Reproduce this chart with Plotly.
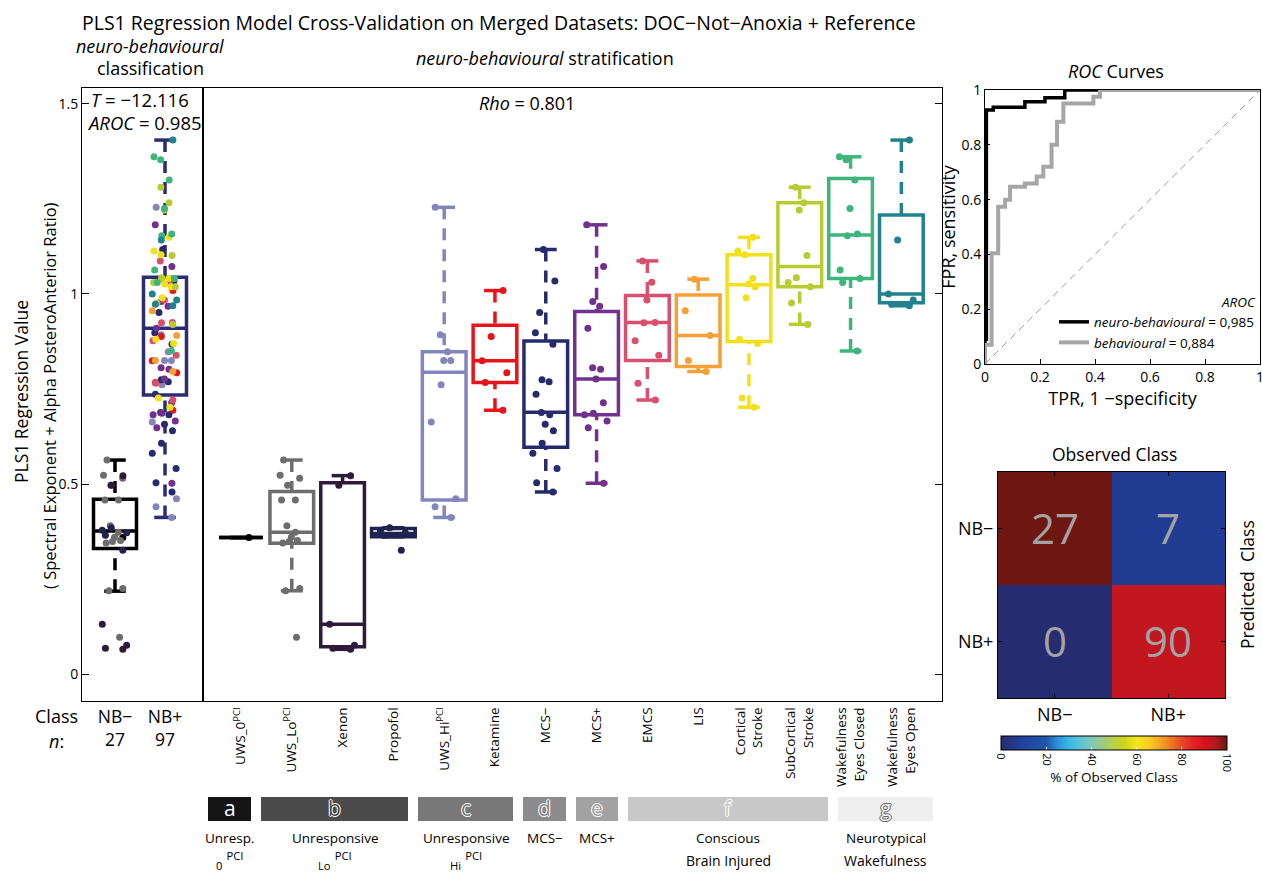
import plotly.graph_objects as go

W, H = 1262, 872
FONT = "Open Sans"


def px(x):
    return x / W


def py(y):
    return 1 - y / H


# ---------------- data ----------------
group_labels = ["UWS_0<sup>PCI</sup>", "UWS_Lo<sup>PCI</sup>", "Xenon", "Propofol",
                "UWS_Hi<sup>PCI</sup>", "Ketamine", "MCS−", "MCS+", "EMCS", "LIS",
                "Cortical<br>Stroke", "SubCortical<br>Stroke",
                "Wakefulness<br>Eyes Closed", "Wakefulness<br>Eyes Open"]
group_colors = ["#000000", "#6d6d6d", "#2e1a3a", "#1f2350", "#8286bd", "#e8141c",
                "#262b6c", "#72308f", "#d9506f", "#f7a036", "#f2e01b", "#b7cc2f",
                "#3eb57c", "#22818f"]

uws_0 = [0.359]
uws_lo = [0.563, 0.523, 0.515, 0.497, 0.458, 0.458, 0.390, 0.373, 0.360, 0.351,
          0.349, 0.345, 0.225, 0.219, 0.097]
xenon = [0.522, 0.497, 0.131, 0.076, 0.068, 0.065]
propofol = [0.385, 0.378, 0.372, 0.365, 0.326]
uws_hi = [1.228, 0.893, 0.848, 0.825, 0.825, 0.761, 0.663, 0.461, 0.440, 0.412]
ketamine = [1.009, 0.888, 0.824, 0.793, 0.767, 0.694]
mcs_minus = [1.117, 1.034, 0.951, 0.898, 0.868, 0.774, 0.769, 0.736, 0.688, 0.682,
             0.657, 0.640, 0.607, 0.581, 0.541, 0.503, 0.479]
mcs_plus = [1.182, 1.072, 0.980, 0.968, 0.910, 0.806, 0.802, 0.776, 0.714, 0.686,
            0.682, 0.666, 0.648, 0.502]
emcs = [1.087, 1.031, 0.984, 0.925, 0.924, 0.877, 0.839, 0.765, 0.721]
lis = [1.039, 0.956, 0.891, 0.825, 0.796]
cortical_stroke = [1.149, 1.113, 1.103, 1.041, 1.026, 1.019, 0.990, 0.881, 0.870,
                   0.726, 0.702]
subcortical_stroke = [1.281, 1.240, 1.221, 1.101, 1.043, 1.030, 1.019, 0.976, 0.920]
wake_eyes_closed = [1.361, 1.353, 1.300, 1.225, 1.158, 1.153, 1.063, 1.041, 1.030, 0.850]
wake_eyes_open = [1.405, 1.142, 1.000, 0.984, 0.973, 0.969]

group_values = [uws_0, uws_lo, xenon, propofol, uws_hi, ketamine, mcs_minus, mcs_plus,
                emcs, lis, cortical_stroke, subcortical_stroke, wake_eyes_closed,
                wake_eyes_open]

# box statistics
group_q1 = [0.359, 0.344, 0.072, 0.361, 0.458, 0.767, 0.597, 0.682, 0.825, 0.809,
            0.875, 1.019, 1.041, 0.977]
group_median = [0.359, 0.373, 0.131, 0.370, 0.794, 0.824, 0.689, 0.776, 0.925, 0.891,
                1.024, 1.072, 1.155, 1.000]
group_q3 = [0.359, 0.480, 0.503, 0.383, 0.848, 0.918, 0.876, 0.954, 0.996, 0.997,
            1.103, 1.240, 1.304, 1.208]
group_wlow = [0.359, 0.219, 0.065, 0.361, 0.412, 0.694, 0.479, 0.502, 0.721, 0.796,
              0.702, 0.920, 0.850, 0.969]
group_whigh = [0.359, 0.563, 0.522, 0.385, 1.228, 1.009, 1.117, 1.182, 1.087, 1.039,
               1.149, 1.281, 1.361, 1.405]

class_labels = ["NB−", "NB+"]
class_n = [27, 97]
class_colors = ["#000000", "#2b2d72"]
class_members = [[0, 1, 2, 3], [4, 5, 6, 7, 8, 9, 10, 11, 12, 13]]
class_q1 = [0.330, 0.734]
class_median = [0.376, 0.910]
class_q3 = [0.460, 1.044]
class_wlow = [0.218, 0.412]
class_whigh = [0.563, 1.405]

# ROC curves
roc_nb_fpr = [0, 0, 0.005, 0.005, 0.03, 0.03, 0.145, 0.145, 0.218, 0.218, 0.29, 0.29, 1.0]
roc_nb_tpr = [0, 0.09, 0.09, 0.927, 0.927, 0.937, 0.937, 0.957, 0.957, 0.972, 0.972, 1.0, 1.0]
roc_b_fpr = [0, 0, 0.024, 0.024, 0.048, 0.048, 0.073, 0.073, 0.091, 0.091, 0.145, 0.145,
             0.188, 0.188, 0.212, 0.212, 0.242, 0.242, 0.262, 0.262, 0.285, 0.285,
             0.394, 0.394, 0.418, 0.418, 1.0]
roc_b_tpr = [0, 0.07, 0.07, 0.404, 0.404, 0.574, 0.574, 0.599, 0.599, 0.647, 0.647,
             0.659, 0.659, 0.684, 0.684, 0.72, 0.72, 0.80, 0.80, 0.884, 0.884, 0.951,
             0.951, 0.975, 0.975, 1.0, 1.0]
roc_names = ["<i>neuro-behavioural</i> = 0,985", "<i>behavioural</i> = 0,884"]

# confusion matrix
cm_classes = ["NB−", "NB+"]
cm_counts = [[27, 7], [0, 90]]

# category bands
cat_letters = ["a", "b", "c", "d", "e", "f", "g"]
cat_line1 = ["Unresp.", "Unresponsive", "Unresponsive", "MCS−", "MCS+", "Conscious",
             "Neurotypical"]
cat_line2 = ["<sub>0</sub> <sup>PCI</sup>", "<sub>Lo</sub> <sup>PCI</sup>",
             "<sub>Hi</sub> <sup>PCI</sup>", "", "", "Brain Injured", "Wakefulness"]

# ---------------- styling / layout constants ----------------
cat_px = [(208, 251), (261, 408), (418, 513), (523, 566), (576, 618), (628, 828), (838, 933)]
cat_fill = ["#141414", "#4b4b4b", "#787878", "#8c8c8c", "#a2a2a2", "#c8c8c8", "#efefef"]

jet_scale = [[0.0, "#262c70"], [0.1, "#1f43a0"], [0.2, "#2157ab"], [0.25, "#2d8fd8"],
             [0.3, "#37b8e9"], [0.35, "#5dc3d6"], [0.4, "#7fc8b8"], [0.45, "#9ccb80"],
             [0.5, "#b9cf48"], [0.55, "#cfd516"], [0.6, "#f3e61c"], [0.65, "#f9d11e"],
             [0.7, "#f5a823"], [0.75, "#ee7b24"], [0.8, "#e84926"], [0.85, "#e32126"],
             [0.9, "#d7141d"], [0.95, "#b21a1e"], [1.0, "#6e1611"]]

LW = 3.5
HW = 0.43
DASH = "12px,9px"

fig = go.Figure()
shapes = []


def add_box_shapes(pos, q1, med, q3, lo, hi, color, xref, yref, hw):
    common = dict(xref=xref, yref=yref, layer="below")
    shapes.append(dict(type="line", x0=pos, x1=pos, y0=hi, y1=q3,
                       line=dict(color=color, width=LW, dash=DASH), **common))
    shapes.append(dict(type="line", x0=pos, x1=pos, y0=lo, y1=q1,
                       line=dict(color=color, width=LW, dash=DASH), **common))
    shapes.append(dict(type="rect", x0=pos - hw, x1=pos + hw, y0=q1, y1=q3,
                       line=dict(color=color, width=LW), **common))
    shapes.append(dict(type="line", x0=pos - hw, x1=pos + hw, y0=med, y1=med,
                       line=dict(color=color, width=LW), **common))
    for v in (hi, lo):
        shapes.append(dict(type="line", x0=pos - hw / 2, x1=pos + hw / 2, y0=v, y1=v,
                           line=dict(color=color, width=LW), **common))


def add_points(pos, values, color, xaxis, yaxis):
    fig.add_trace(go.Box(
        y=values, x0=pos, xaxis=xaxis, yaxis=yaxis, width=2 * HW,
        boxpoints="all", jitter=0.7, pointpos=0,
        line=dict(width=0, color="rgba(0,0,0,0)"), fillcolor="rgba(0,0,0,0)",
        marker=dict(color=color, size=7, line=dict(width=0)),
        hoveron="points", showlegend=False))


# class (left) panel
for i in range(2):
    add_box_shapes(i + 1, class_q1[i], class_median[i], class_q3[i], class_wlow[i],
                   class_whigh[i], class_colors[i], "x", "y", HW)
    for g in class_members[i]:
        add_points(i + 1, group_values[g], group_colors[g], "x", "y")

# stratification (right) panel
for g in range(len(group_values)):
    add_box_shapes(g + 1, group_q1[g], group_median[g], group_q3[g], group_wlow[g],
                   group_whigh[g], group_colors[g], "x2", "y2", HW)
    add_points(g + 1, group_values[g], group_colors[g], "x2", "y2")

# ROC
fig.add_trace(go.Scatter(x=[0, 1], y=[0, 1], mode="lines", xaxis="x3", yaxis="y3",
                         line=dict(color="#9a9a9a", width=1, dash="7px,5px"),
                         showlegend=False, hoverinfo="skip"))
fig.add_trace(go.Scatter(x=roc_nb_fpr, y=roc_nb_tpr, mode="lines", xaxis="x3", yaxis="y3",
                         line=dict(color="#000000", width=3.5), name=roc_names[0]))
fig.add_trace(go.Scatter(x=roc_b_fpr, y=roc_b_tpr, mode="lines", xaxis="x3", yaxis="y3",
                         line=dict(color="#a6a6a6", width=4), name=roc_names[1]))

# confusion matrix
col_tot = [cm_counts[0][j] + cm_counts[1][j] for j in range(2)]
cm_pct = [[100.0 * cm_counts[r][j] / col_tot[j] for j in range(2)] for r in range(2)]
fig.add_trace(go.Heatmap(
    z=cm_pct, x=cm_classes, y=cm_classes, text=cm_counts, texttemplate="%{text}",
    textfont=dict(size=42, color="#a3a3a3", family=FONT), xaxis="x4", yaxis="y4",
    colorscale=jet_scale, zmin=0, zmax=100, showscale=True, xgap=0, ygap=0,
    colorbar=dict(orientation="h", x=px(1114), xanchor="center", y=py(736),
                  yanchor="top", len=226 / W, lenmode="fraction", thickness=14,
                  xpad=0, ypad=0,
                  tickvals=[0, 20, 40, 60, 80, 100], tickangle=90,
                  tickfont=dict(size=11, family=FONT, color="black"), ticks="inside",
                  ticklen=3, tickcolor="white", outlinecolor="black", outlinewidth=1,
                  title=dict(text="% of Observed Class", side="bottom",
                             font=dict(size=13.5, family=FONT, color="black")))))

# ---------------- axes ----------------
ydom = [py(701), py(88)]
axis_common = dict(showline=True, linecolor="black", linewidth=1, mirror=True,
                   showgrid=False, zeroline=False, automargin=False, tickcolor="black")

layout = dict(
    template="none",
    width=W, height=H, autosize=False, margin=dict(l=0, r=0, t=0, b=0, pad=0),
    paper_bgcolor="white", plot_bgcolor="white",
    font=dict(family=FONT, color="black", size=14),
    boxmode="overlay",
    xaxis=dict(domain=[px(82), px(203)], anchor="y", range=[0.34, 2.76],
               tickvals=[1, 2],
               ticktext=[f"{c}<br>{n}" for c, n in zip(class_labels, class_n)],
               ticks="", tickfont=dict(size=17.5), **axis_common),
    yaxis=dict(domain=ydom, anchor="x", range=[-0.071, 1.542],
               tickvals=[0, 0.5, 1, 1.5], ticktext=["0", "0.5", "1", "1.5"],
               ticks="inside", ticklen=7, tickfont=dict(size=14), **axis_common),
    xaxis2=dict(domain=[px(203), px(942)], anchor="y2", range=[0.252, 14.80],
                tickvals=list(range(1, 15)), ticktext=group_labels, tickangle=-90,
                ticks="", tickfont=dict(size=13.5), **axis_common),
    yaxis2=dict(domain=ydom, anchor="x2", matches="y", side="right",
                tickvals=[0, 0.5, 1, 1.5], showticklabels=False,
                ticks="inside", ticklen=7, **axis_common),
    xaxis3=dict(domain=[px(985), px(1260)], anchor="y3", range=[0, 1],
                tickvals=[0, 0.2, 0.4, 0.6, 0.8, 1],
                ticktext=["0", "0.2", "0.4", "0.6", "0.8", "1"],
                ticks="inside", ticklen=5, tickfont=dict(size=14),
                ticklabeloverflow="allow",
                title=dict(text="TPR, 1 −specificity", font=dict(size=18), standoff=4),
                **axis_common),
    yaxis3=dict(domain=[py(364), py(90)], anchor="x3", range=[0, 1],
                tickvals=[0, 0.2, 0.4, 0.6, 0.8, 1],
                ticktext=["0", "0.2", "0.4", "0.6", "0.8", "1"],
                ticks="inside", ticklen=5, tickfont=dict(size=14),
                title=dict(text="FPR, sensitivity", font=dict(size=18), standoff=1),
                **axis_common),
    xaxis4=dict(domain=[px(998), px(1225)], anchor="y4", ticks="inside", ticklen=4,
                tickfont=dict(size=18), showline=True, linecolor="black", linewidth=1,
                mirror="allticks", showgrid=False, zeroline=False, automargin=False,
                tickcolor="black"),
    yaxis4=dict(domain=[py(698), py(472)], anchor="x4", ticks="inside", ticklen=4,
                autorange="reversed", tickfont=dict(size=18), showline=True,
                linecolor="black", linewidth=1, mirror="allticks", showgrid=False,
                zeroline=False, automargin=False, tickcolor="black"),
    showlegend=True,
    legend=dict(x=px(1259), xanchor="right", y=py(289), yanchor="top",
                bgcolor="rgba(0,0,0,0)", font=dict(size=13.5), itemwidth=30,
                tracegroupgap=0, borderwidth=0,
                title=dict(text="<i>AROC</i>", side="top right", font=dict(size=13.5))),
)

annotations = []


def ann(text, x, y, size=16, **kw):
    d = dict(text=text, x=px(x), y=py(y), xref="paper", yref="paper",
             showarrow=False, font=dict(size=size, family=FONT, color="black"),
             xanchor="center", yanchor="middle")
    d.update(kw)
    annotations.append(d)


ann("PLS1 Regression Model Cross-Validation on Merged Datasets: DOC−Not−Anoxia + Reference",
    499, 22, 19.5)
ann("<i>neuro-behavioural</i>", 150, 46, 18)
ann("classification", 150, 68, 18)
ann("<i>neuro-behavioural</i> stratification", 545, 58, 18)
ann("<i>T</i> = −12.116", 140, 99, 18.5)
ann("<i>AROC</i> = 0.985", 144, 123, 18.5)
ann("<i>Rho</i> = 0.801", 527, 103, 18)
ann("PLS1 Regression Value", 21, 392, 17.5, textangle=-90)
ann("( Spectral Exponent + Alpha PosteroAnterior Ratio)", 49, 396, 16.5, textangle=-90)
ann("Class", 56, 716, 18)
ann("<i>n</i>:", 56, 741, 18)
ann("<i>ROC</i> Curves", 1116, 71, 18)
ann("Observed Class", 1114, 454, 17.5)
ann("Predicted  Class", 1247, 585, 17.5, textangle=-90)

# category bands
for i, (x0, x1) in enumerate(cat_px):
    shapes.append(dict(type="rect", xref="paper", yref="paper", x0=px(x0), x1=px(x1),
                       y0=py(821), y1=py(797), fillcolor=cat_fill[i],
                       line=dict(width=0), layer="above"))
    cx = (x0 + x1) / 2
    if i == 0:
        ann(cat_letters[i], cx, 808, 21, font=dict(size=21, family=FONT, color="white"))
    else:
        edge = "#ffffff" if i < 6 else "#666666"
        shadow = (f"1px 0 0 {edge}, -1px 0 0 {edge}, 0 1px 0 {edge}, 0 -1px 0 {edge}")
        ann(cat_letters[i], cx, 808, 21,
            font=dict(size=21, family=FONT, color=cat_fill[i], shadow=shadow))
    ann(cat_line1[i], cx, 838, 13.5)
    if cat_line2[i]:
        ann(cat_line2[i], cx, 860, 14 if i >= 5 else 16)

layout["annotations"] = annotations
layout["shapes"] = shapes
fig.update_layout(**layout)

fig.write_html("out.html", config={"displayModeBar": False},
               post_script="document.body.style.margin='0px';")
